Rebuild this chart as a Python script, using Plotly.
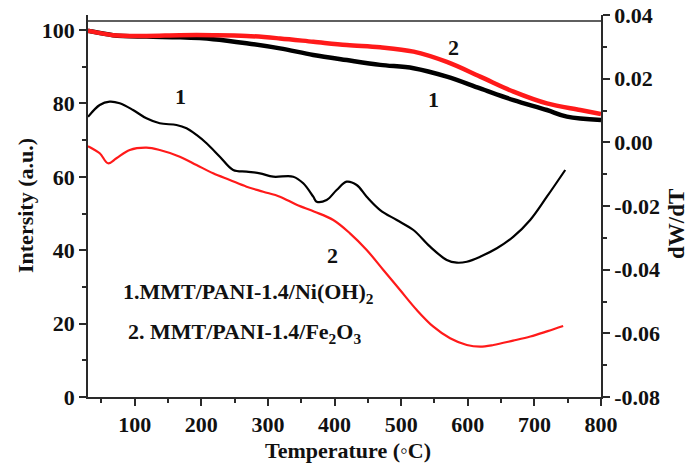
import plotly.graph_objects as go

# TGA curves (left axis, weight %)
tga1_T = [30, 32.6, 67.6, 117.8, 167.8, 217.9, 268, 318.1, 368.2, 418.4, 468.5, 518.7, 568.6, 618.6, 668.7, 718.8, 748.8, 800]
tga1_W = [99.8, 99.7, 98.6, 98.2, 98.0, 97.5, 96.4, 95.0, 93.2, 91.8, 90.5, 89.6, 87.3, 84.1, 80.9, 78.2, 76.4, 75.5]
tga2_T = [30, 32.6, 67.6, 117.8, 167.8, 217.9, 268, 318.1, 368.2, 418.4, 468.5, 518.7, 568.6, 618.6, 668.7, 718.8, 768.9, 800]
tga2_W = [99.8, 99.7, 98.6, 98.4, 98.6, 98.6, 98.4, 97.7, 96.8, 95.9, 95.3, 94.1, 91.3, 87.3, 83.2, 80.0, 78.2, 77.1]

# DTG curves (right axis, dW/dT)
dtg1_T = [30, 47.6, 62.6, 77.6, 97.6, 117.7, 137.7, 162.8, 177.9, 192.9, 207.9, 227.9, 247.9, 268.0,
          288.0, 308.0, 338.0, 353.1, 368.1, 373.2, 388.2, 403.2, 418.3, 433.3, 448.3, 468.5,
          493.4, 518.4, 543.5, 568.5, 583.6, 598.6, 618.6, 643.7, 668.6, 693.7, 718.8, 746.3]
dtg1_V = [0.0080, 0.01173, 0.01277, 0.01226, 0.01016, 0.00755, 0.00598, 0.00545, 0.00441, 0.00231, -0.0003,
          -0.00451, -0.00869, -0.00922, -0.00973, -0.01079, -0.01079, -0.01287, -0.01708, -0.01865,
          -0.01811, -0.01497, -0.01236, -0.01340, -0.01708, -0.02126, -0.02440, -0.02754, -0.03278,
          -0.03696, -0.03781, -0.03750, -0.03593, -0.03329, -0.02964, -0.02440, -0.01708, -0.00869]
dtg2_T = [30, 47.6, 60.1, 72.7, 92.7, 117.8, 137.7, 167.8, 192.9, 217.8, 242.9, 268.0, 293.0, 318.1,
          343.1, 370.0, 398.1, 423.2, 448.3, 473.3, 498.4, 523.5, 548.4, 573.5, 598.6, 618.6, 638.6,
          668.0, 694.0, 720.0, 743.2]
dtg2_V = [-0.0012, -0.00344, -0.00658, -0.00501, -0.00241, -0.00168, -0.00241, -0.00451, -0.00712,
          -0.00973, -0.01183, -0.01394, -0.01551, -0.01708, -0.01960, -0.02179, -0.02440, -0.02858,
          -0.03382, -0.04010, -0.04639, -0.05267, -0.05792, -0.06156, -0.06367, -0.06420, -0.06367,
          -0.06230, -0.06100, -0.05930, -0.05770]

x_ticks = [100, 200, 300, 400, 500, 600, 700, 800]
y_left_ticks = [0, 20, 40, 60, 80, 100]
y_right_ticks = [-0.08, -0.06, -0.04, -0.02, 0.00, 0.02, 0.04]
y_right_labels = ["-0.08", "-0.06", "-0.04", "-0.02", "0.00", "0.02", "0.04"]

FONT = "Liberation Serif"
AX = "#2a2a2a"

fig = go.Figure()
fig.add_trace(go.Scatter(x=dtg2_T, y=dtg2_V, yaxis="y2", mode="lines",
                         line=dict(color="#ff1a1a", width=2.2, shape="spline")))
fig.add_trace(go.Scatter(x=dtg1_T, y=dtg1_V, yaxis="y2", mode="lines",
                         line=dict(color="#000000", width=2.2, shape="spline")))
fig.add_trace(go.Scatter(x=tga1_T, y=tga1_W, mode="lines",
                         line=dict(color="#000000", width=4.5, shape="spline")))
fig.add_trace(go.Scatter(x=tga2_T, y=tga2_W, mode="lines",
                         line=dict(color="#ff1a1a", width=4.5, shape="spline")))

tickfont = dict(family=FONT, size=22, color="#111", weight="bold")
fig.update_layout(
    width=689, height=470,
    margin=dict(l=88, r=88, t=15, b=73, autoexpand=False),
    paper_bgcolor="white", plot_bgcolor="white",
    showlegend=False,
    xaxis=dict(range=[30, 800], tickvals=x_ticks, showgrid=False, zeroline=False, automargin=False,
               showline=True, linecolor=AX, linewidth=1.6,
               ticks="outside", ticklen=7, tickwidth=1.5, tickcolor=AX,
               minor=dict(ticks="outside", ticklen=4, dtick=50, tick0=0, tickcolor=AX, tickwidth=1.5),
               tickfont=tickfont),
    yaxis=dict(range=[0, 104.09], tickvals=y_left_ticks, showgrid=False, zeroline=False, automargin=False,
               showline=True, linecolor=AX, linewidth=1.6,
               ticks="outside", ticklen=7, tickwidth=1.5, tickcolor=AX,
               minor=dict(ticks="outside", ticklen=4, dtick=10, tick0=0, tickcolor=AX, tickwidth=1.5),
               tickfont=tickfont),
    yaxis2=dict(range=[-0.08, 0.04], overlaying="y", side="right", tickvals=y_right_ticks,
                ticktext=y_right_labels, showgrid=False, zeroline=False, automargin=False,
                showline=True, linecolor=AX, linewidth=1.6,
                ticks="outside", ticklen=7, tickwidth=1.5, tickcolor=AX,
                minor=dict(ticks="outside", ticklen=4, dtick=0.01, tick0=0, tickcolor=AX, tickwidth=1.5),
                tickfont=tickfont),
)

# top frame line (below the top of the vertical axes)
fig.add_shape(type="line", xref="x", yref="y", x0=30, x1=800, y0=102.45, y1=102.45,
              line=dict(color=AX, width=1.6))

def px_x(px):
    return (px - 88) / 513.0

def px_y(py):
    return (397 - py) / 382.0

title_font = dict(family=FONT, size=22, color="#111", weight="bold")
fig.add_annotation(text="Intersity (a.u.)", xref="paper", yref="paper", x=px_x(25), y=px_y(206),
                   textangle=-90, showarrow=False, font=title_font, xanchor="center", yanchor="middle")
fig.add_annotation(text="Temperature (\u25e6C)", xref="paper", yref="paper", x=px_x(348), y=px_y(450),
                   showarrow=False, font=title_font, xanchor="center", yanchor="middle")
fig.add_annotation(text="dW/dT", xref="paper", yref="paper", x=px_x(676), y=px_y(224),
                   textangle=-90, showarrow=False, font=dict(family=FONT, size=23, color="#111", weight="bold"),
                   xanchor="center", yanchor="middle")

lab_font = dict(family=FONT, size=22, color="#111", weight="bold")
for txt, px, py in [("1", 180, 97), ("1", 433, 99), ("2", 453, 48), ("2", 332, 255)]:
    fig.add_annotation(text=txt, xref="paper", yref="paper", x=px_x(px), y=px_y(py),
                       showarrow=False, font=lab_font, xanchor="center", yanchor="middle")

fig.add_annotation(text="1.MMT/PANI-1.4/Ni(OH)<sub>2</sub>", xref="paper", yref="paper",
                   x=px_x(121), y=px_y(293), showarrow=False, font=lab_font,
                   xanchor="left", yanchor="middle")
fig.add_annotation(text="2. MMT/PANI-1.4/Fe<sub>2</sub>O<sub>3</sub>", xref="paper", yref="paper",
                   x=px_x(126), y=px_y(333), showarrow=False, font=lab_font,
                   xanchor="left", yanchor="middle")

fig.write_html("out.html")
